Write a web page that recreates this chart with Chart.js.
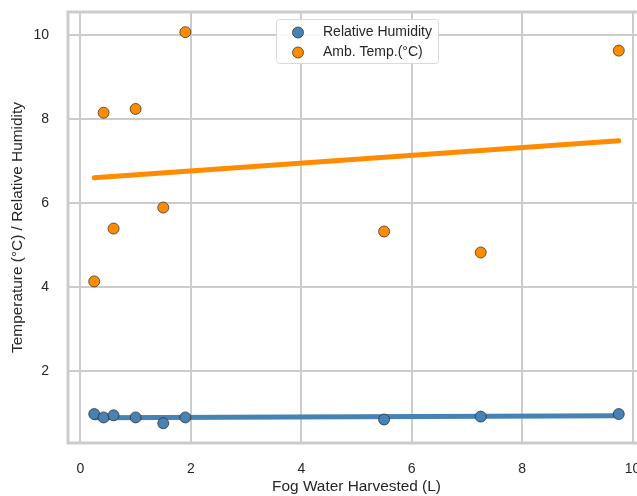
<!DOCTYPE html>
<html>
<head>
<meta charset="utf-8">
<script src="https://cdn.jsdelivr.net/npm/chart.js@4.4.0/dist/chart.umd.min.js"></script>
<style>
  html, body { margin: 0; padding: 0; background: #fff; overflow: hidden; }
  #wrap { width: 660px; height: 496px; }
</style>
</head>
<body>
<div id="wrap"><canvas id="fogChart" width="660" height="496"></canvas></div>
<script>
// Data
const fogWater = [0.25, 0.42, 0.6, 1.0, 1.5, 1.9, 5.5, 7.25, 9.75];
const humidity = [0.97, 0.89, 0.94, 0.89, 0.75, 0.89, 0.84, 0.91, 0.97];
const ambTemp = [4.13, 8.15, 5.39, 8.24, 5.89, 10.07, 5.32, 4.82, 9.63];

// Fit lines (end points)
const fitX = [0.25, 9.75];
const humidityFit = [0.88, 0.93];
const tempFit = [6.6, 7.48];

const xTicks = [0, 2, 4, 6, 8, 10];
const yTicks = [2, 4, 6, 8, 10];

const blue = '#4682b4';
const orange = '#ff8c00';
const gridGrey = '#cccccc';
const textColor = '#262626';
const fontFamily = '"Liberation Sans", Arial, sans-serif';

function toPoints(xs, ys) {
  return xs.map((x, i) => ({ x: x, y: ys[i] }));
}

// Grey frame around the plot area
const framePlugin = {
  id: 'frame',
  beforeDatasetsDraw(chart) {
    const a = chart.chartArea;
    const ctx = chart.ctx;
    ctx.save();
    ctx.strokeStyle = gridGrey;
    ctx.lineWidth = 3;
    ctx.strokeRect(a.left, a.top, a.right - a.left, a.bottom - a.top);
    ctx.restore();
  }
};

// Legend drawn inside the plot, upper centre
const insideLegend = {
  id: 'insideLegend',
  afterDraw(chart) {
    const ctx = chart.ctx;
    const items = chart.data.datasets.filter(d => d.inLegend);
    const x = 276, y = 19, w = 162, h = 44;
    ctx.save();
    ctx.fillStyle = 'rgba(255,255,255,0.85)';
    ctx.strokeStyle = '#d9d9d9';
    ctx.lineWidth = 1;
    ctx.beginPath();
    ctx.roundRect(x + 0.5, y + 0.5, w, h, 3);
    ctx.fill();
    ctx.stroke();
    ctx.font = '14px ' + fontFamily;
    ctx.textBaseline = 'middle';
    items.forEach((d, i) => {
      const cy = y + 13.5 + i * 20;
      ctx.beginPath();
      ctx.arc(x + 22, cy, 5.5, 0, Math.PI * 2);
      ctx.fillStyle = d.backgroundColor;
      ctx.fill();
      ctx.strokeStyle = 'rgba(40,40,40,0.9)';
      ctx.lineWidth = 0.8;
      ctx.stroke();
      ctx.fillStyle = textColor;
      ctx.fillText(d.label, x + 47, cy);
    });
    ctx.restore();
  }
};

function initChart() {
  const canvas = document.getElementById('fogChart');
  new Chart(canvas, {
    type: 'scatter',
    data: {
      datasets: [
        {
          label: 'Relative Humidity',
          inLegend: true,
          data: toPoints(fogWater, humidity),
          backgroundColor: blue,
          borderColor: 'rgba(40,40,40,0.9)',
          borderWidth: 0.8,
          pointRadius: 5.5
        },
        {
          label: 'Amb. Temp.(°C)',
          inLegend: true,
          data: toPoints(fogWater, ambTemp),
          backgroundColor: orange,
          borderColor: 'rgba(40,40,40,0.9)',
          borderWidth: 0.8,
          pointRadius: 5.5
        },
        {
          type: 'line',
          label: 'Humidity fit',
          data: toPoints(fitX, humidityFit),
          borderColor: blue,
          borderWidth: 5,
          borderCapStyle: 'round',
          pointRadius: 0,
          fill: false
        },
        {
          type: 'line',
          label: 'Temp fit',
          data: toPoints(fitX, tempFit),
          borderColor: orange,
          borderWidth: 5,
          borderCapStyle: 'round',
          pointRadius: 0,
          fill: false
        }
      ]
    },
    options: {
      responsive: false,
      animation: false,
      layout: { padding: { top: 12, right: 15, left: 0, bottom: 0 } },
      plugins: {
        legend: { display: false },
        tooltip: { enabled: false }
      },
      scales: {
        x: {
          type: 'linear',
          min: -0.225,
          max: 10.225,
          afterBuildTicks: s => { s.ticks = xTicks.map(v => ({ value: v })); },
          afterFit: s => { s.height = 53; s.paddingLeft = 0; s.paddingRight = 0; },
          grid: { color: gridGrey, lineWidth: 2, drawTicks: false },
          border: { display: false },
          ticks: {
            padding: 18,
            color: textColor,
            font: { size: 14, family: fontFamily }
          },
          title: {
            display: true,
            text: 'Fog Water Harvested (L)',
            color: textColor,
            padding: { top: 0, bottom: 0 },
            font: { size: 15.4, family: fontFamily }
          }
        },
        y: {
          type: 'linear',
          min: 0.28,
          max: 10.55,
          afterBuildTicks: s => { s.ticks = yTicks.map(v => ({ value: v })); },
          afterFit: s => { s.width = 68; s.paddingTop = 0; s.paddingBottom = 0; },
          grid: { color: gridGrey, lineWidth: 2, drawTicks: false },
          border: { display: false },
          ticks: {
            padding: 19,
            color: textColor,
            font: { size: 14, family: fontFamily }
          },
          title: {
            display: true,
            text: 'Temperature (°C) / Relative Humidity',
            color: textColor,
            padding: { top: 9, bottom: 0 },
            font: { size: 15.4, family: fontFamily }
          }
        }
      }
    },
    plugins: [framePlugin, insideLegend]
  });
}

document.addEventListener('DOMContentLoaded', initChart);
</script>
</body>
</html>
